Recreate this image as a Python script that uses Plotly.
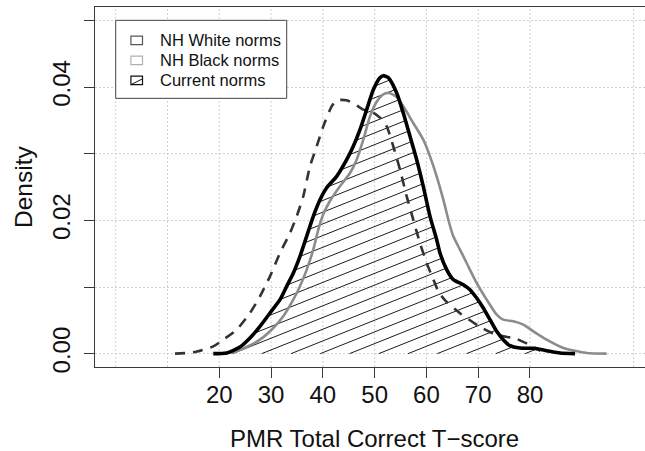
import numpy as np
import plotly.graph_objects as go

# Kernel density curves of PMR Total Correct T-scores under three norm sets
white_x = [11.45, 14.98, 18.84, 20.77, 23.36, 25.93, 27.86, 29.79, 31.72, 33.65, 34.95,
           36.22, 37.51, 38.81, 40.08, 41.7, 42.67, 44.6, 46.2, 47.81, 49.43, 51.03,
           52.33, 53.6, 54.9, 56.19, 57.46, 58.75, 60.05, 61.3, 62.4, 63.85, 66.6,
           70.2, 73.24, 77.43, 80.83, 82.0]
white_y = [0.0, 0.0002, 0.0011, 0.0021, 0.0036, 0.0061, 0.0086, 0.0116, 0.0151, 0.0181,
           0.0206, 0.0236, 0.0281, 0.0311, 0.0341, 0.0371, 0.0380, 0.0380, 0.0374,
           0.0366, 0.0363, 0.0354, 0.0341, 0.0311, 0.0276, 0.0236, 0.0201, 0.0166,
           0.0136, 0.0112, 0.0092, 0.0078, 0.0060, 0.0041, 0.0029, 0.0022, 0.00095, 0.0004]

black_x = [19.5, 22.7, 25.29, 27.86, 30.43, 32.36, 34.29, 35.58, 36.88, 38.15, 39.12,
           40.08, 41.37, 43.3, 45.24, 46.53, 47.81, 49.1, 50.4, 51.67, 52.83, 54.26,
           55.53, 57.46, 59.39, 60.69, 61.98, 63.26, 64.4, 65.19, 66.48, 67.77, 69.7,
           71.64, 73.56, 74.84, 76.77, 78.7, 80.64, 83.22, 86.43, 90.95, 94.8]
black_y = [0.0, 0.0002, 0.0010, 0.0021, 0.00385, 0.0056, 0.0081, 0.0101, 0.0126, 0.0156,
           0.0186, 0.0209, 0.0229, 0.0251, 0.0271, 0.0291, 0.0321, 0.0356, 0.0378,
           0.0389, 0.0391, 0.0385, 0.0371, 0.0346, 0.0321, 0.0296, 0.0266, 0.0231,
           0.0196, 0.0176, 0.0156, 0.0136, 0.0106, 0.0081, 0.00585, 0.0051, 0.00485,
           0.00435, 0.00335, 0.0021, 0.00085, 0.0001, 0.0]

cur_x = [18.84, 21.43, 24.0, 25.93, 27.86, 29.79, 31.72, 33.01, 34.3, 35.58, 36.87,
         38.15, 39.45, 40.74, 42.67, 44.6, 45.88, 47.17, 48.46, 49.74, 51.03, 51.67,
         52.64, 54.26, 55.53, 56.83, 58.12, 59.39, 60.69, 61.98, 62.62, 63.91, 65.19,
         67.12, 68.41, 69.7, 70.98, 72.27, 73.56, 74.84, 76.13, 78.07, 80.64, 83.22,
         85.8, 88.7]
cur_y = [0.0, 0.0001, 0.0010, 0.00235, 0.0041, 0.0061, 0.0081, 0.0101, 0.0121, 0.0146,
         0.0176, 0.0206, 0.0231, 0.0249, 0.0266, 0.0291, 0.0311, 0.0336, 0.0366, 0.0396,
         0.0414, 0.0417, 0.0414, 0.0391, 0.0361, 0.0326, 0.0291, 0.0251, 0.0206, 0.0171,
         0.0151, 0.0126, 0.0111, 0.01035, 0.0096, 0.00835, 0.00685, 0.0051, 0.00335,
         0.0021, 0.0012, 0.00085, 0.0008, 0.00045, 0.0001, 0.0]

x_ticks = [20, 30, 40, 50, 60, 70, 80]
y_ticks = [0.0, 0.01, 0.02, 0.03, 0.04, 0.05]
y_tick_text = ["0.00", "", "0.02", "", "0.04", ""]
grid_x = [0, 10, 20, 30, 40, 50, 60, 70, 80, 100]
legend_labels = ["NH White norms", "NH Black norms", "Current norms"]

# ---- page geometry ----
W, H = 645, 451
ML, MT, MB, MR = 95, 7, 84, 0
plot_w = W - ML - MR
plot_h = H - MT - MB
PX_PER_X = 5.1785
x_range = [-4.0, -4.0 + plot_w / PX_PER_X]
y_range = [-0.002, 0.052]
px_per_y = plot_h / (y_range[1] - y_range[0])

FONT = "Liberation Sans, Arial, Helvetica, sans-serif"
AXIS_COL = "#3a3a3a"
GRID_COL = "#d0d0d0"

fig = go.Figure()

# ---- diagonal hatching clipped to the area under the current-norms curve ----
HATCH_TAN = 0.40          # slope of hatch lines in screen space
HATCH_STEP_PX = 29.26     # spacing of hatch lines along the baseline
HATCH_PHASE = 28.19       # one hatch line meets the baseline here
slope = HATCH_TAN * PX_PER_X / px_per_y
step = HATCH_STEP_PX / PX_PER_X
cx = np.array(cur_x)
cy = np.array(cur_y)
hx, hy = [], []
k_lo = int(np.floor((cx[0] - cy.max() / slope - step - HATCH_PHASE) / step))
k_hi = int(np.ceil((cx[-1] - HATCH_PHASE) / step))
for k in range(k_lo, k_hi + 1):
    xk = HATCH_PHASE + k * step
    xs = np.arange(max(xk, cx[0]), cx[-1], 0.01)
    if xs.size < 2:
        continue
    line = slope * (xs - xk)
    f = np.interp(xs, cx, cy)
    inside = line <= f
    idx = np.flatnonzero(np.diff(np.concatenate(([0], inside.astype(int), [0]))))
    for a, b in zip(idx[::2], idx[1::2] - 1):
        if b - a < 2:
            continue
        hx += [xs[a], xs[b], None]
        hy += [slope * (xs[a] - xk), slope * (xs[b] - xk), None]

fig.add_trace(go.Scatter(x=hx, y=hy, mode="lines",
                         line=dict(color="#1c1c1c", width=1),
                         hoverinfo="skip", showlegend=False))

# ---- density curves ----
fig.add_trace(go.Scatter(x=white_x, y=white_y, mode="lines", name=legend_labels[0],
                         line=dict(color="#333333", width=2.6, dash="10px,8px",
                                   shape="spline", smoothing=0.6),
                         showlegend=False))
fig.add_trace(go.Scatter(x=black_x, y=black_y, mode="lines", name=legend_labels[1],
                         line=dict(color="#8c8c8c", width=2.6,
                                   shape="spline", smoothing=0.6),
                         showlegend=False))
fig.add_trace(go.Scatter(x=cur_x, y=cur_y, mode="lines", name=legend_labels[2],
                         line=dict(color="#000000", width=3.6,
                                   shape="spline", smoothing=0.6),
                         showlegend=False))

shapes = []
# vertical dotted grid
for gx in grid_x:
    shapes.append(dict(type="line", xref="x", yref="paper", x0=gx, x1=gx, y0=0, y1=1,
                       line=dict(color=GRID_COL, width=1, dash="2px,2px"), layer="below"))

# ---- legend box drawn in the top-left corner of the data region ----
def dx(px):
    return px / PX_PER_X

def dy(px):
    return px / px_per_y

LEG_X0, LEG_Y1 = 0.0, 0.05
LEG_W, LEG_H = 171, 78
shapes.append(dict(type="rect", xref="x", yref="y",
                   x0=LEG_X0, x1=LEG_X0 + dx(LEG_W),
                   y0=LEG_Y1 - dy(LEG_H), y1=LEG_Y1,
                   line=dict(color="#444444", width=1), fillcolor="white"))
sym_colors = ["#555555", "#b0b0b0", "#111111"]
annotations = []
for i, lab in enumerate(legend_labels):
    row_y = LEG_Y1 - dy(20 + 20 * i)
    sx = LEG_X0 + dx(21)
    shapes.append(dict(type="rect", xref="x", yref="y",
                       x0=sx - dx(5.8), x1=sx + dx(5.8),
                       y0=row_y - dy(4.3), y1=row_y + dy(4.3),
                       line=dict(color=sym_colors[i], width=1.2), fillcolor="white"))
    if i == 2:
        shapes.append(dict(type="line", xref="x", yref="y",
                           x0=sx - dx(5.8), x1=sx + dx(5.8),
                           y0=row_y - dy(4.3), y1=row_y + dy(1.5),
                           line=dict(color="#111111", width=1)))
    annotations.append(dict(x=LEG_X0 + dx(42.5), y=row_y, xref="x", yref="y",
                            text=lab, showarrow=False, xanchor="left", yanchor="middle",
                            font=dict(family=FONT, size=16.5, color="#111111")))

# axis titles
annotations.append(dict(x=(374.7 - ML) / plot_w, y=(H - MB - 454) / plot_h,
                        xref="paper", yref="paper", text="PMR Total Correct T\u2212score",
                        showarrow=False, xanchor="center", yanchor="bottom",
                        font=dict(family=FONT, size=24, color="#111111")))
annotations.append(dict(x=(23 - ML) / plot_w, y=0.5, xref="paper", yref="paper",
                        text="Density", textangle=-90, showarrow=False,
                        xanchor="center", yanchor="middle",
                        font=dict(family=FONT, size=24.5, color="#111111")))

fig.update_layout(
    width=W, height=H,
    margin=dict(l=ML, r=MR, t=MT, b=MB, pad=0),
    paper_bgcolor="white", plot_bgcolor="white",
    showlegend=False,
    shapes=shapes, annotations=annotations,
    font=dict(family=FONT, color="#111111"),
    xaxis=dict(range=x_range, tickvals=x_ticks, ticktext=[str(v) for v in x_ticks],
               ticks="outside", ticklen=10, tickwidth=1, tickcolor=AXIS_COL,
               showline=True, mirror=True, linecolor=AXIS_COL, linewidth=1.2,
               showgrid=False, zeroline=False, ticklabelstandoff=-4,
               tickfont=dict(family=FONT, size=24, color="#111111")),
    yaxis=dict(range=y_range, tickvals=y_ticks, ticktext=y_tick_text,
               ticks="outside", ticklen=10, tickwidth=1, tickcolor=AXIS_COL,
               showline=True, mirror=False, linecolor=AXIS_COL, linewidth=1.2,
               showgrid=True, gridcolor=GRID_COL, gridwidth=1, griddash="2px,2px",
               zeroline=False, tickangle=-90, ticklabelstandoff=4,
               tickfont=dict(family=FONT, size=24, color="#111111")),
)

fig.write_html("out.html")
